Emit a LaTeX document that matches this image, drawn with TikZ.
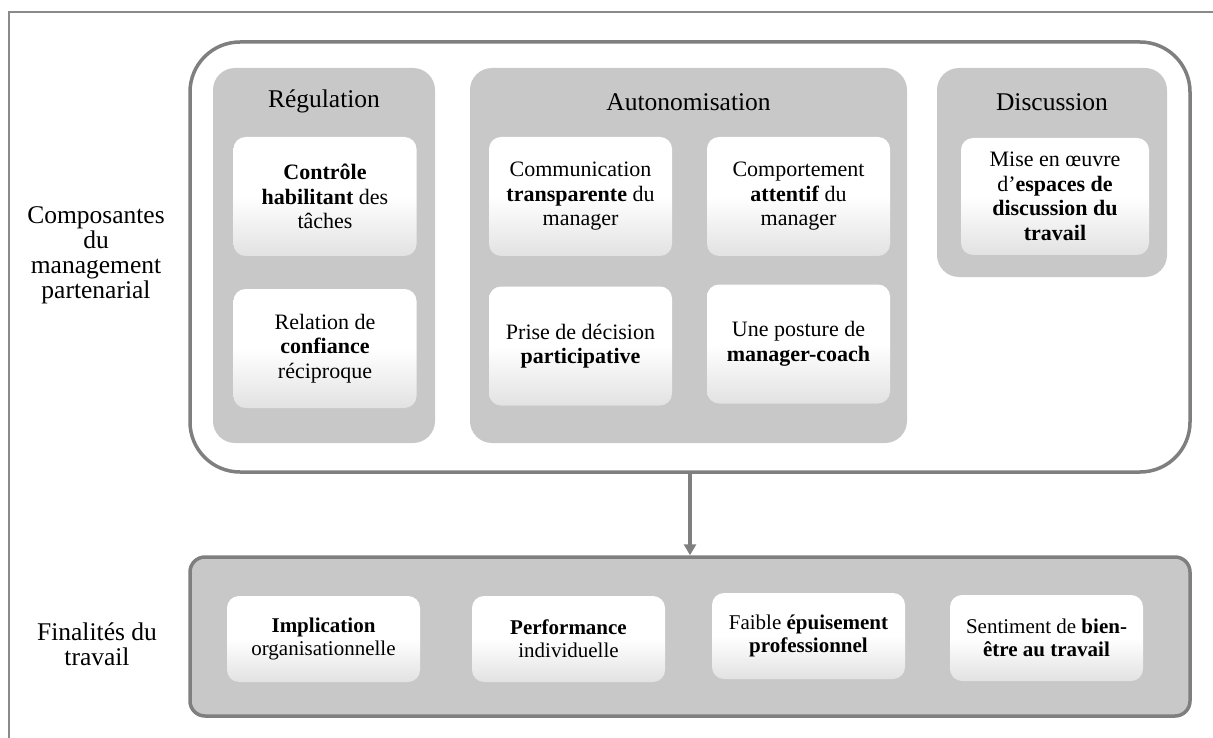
\documentclass[tikz,border=0pt]{standalone}
\usepackage{fontspec}
\setmainfont{Liberation Serif}
\usepackage{tikz}
\usetikzlibrary{positioning, arrows.meta, shapes}

\definecolor{panelgray}{HTML}{C8C8C8}
\definecolor{linegray}{HTML}{7F7F7F}
\definecolor{framegray}{HTML}{8A8A8A}
\definecolor{itembottom}{HTML}{E2E2E2}

\newcommand{\itemfont}{\fontsize{22}{24.5}\selectfont}
\newcommand{\goalfont}{\fontsize{21}{23}\selectfont}
\newcommand{\headfont}{\fontsize{25.5}{25}\selectfont}

\tikzset{%
  % Specifications for style of nodes:
            base/.style = {rectangle, rounded corners=12pt, inner sep=0pt,
                           align=center, text=black},
            container/.style = {base, draw=linegray, line width=3.5pt, fill=white,
                           rounded corners=50pt, minimum width=1000pt, minimum height=430pt},
            panel/.style = {base, fill=panelgray, rounded corners=22pt},
            goalPanel/.style = {base, fill=panelgray, draw=linegray, line width=3.5pt,
                           rounded corners=15pt, minimum width=1000pt, minimum height=159pt},
            item/.style = {base, top color=white, bottom color=itembottom, middle color=white,
                           minimum width=183pt, minimum height=119pt, font=\itemfont},
            goal/.style = {item, minimum width=193pt, minimum height=86pt, font=\goalfont},
            head/.style = {font=\headfont, inner sep=0pt},
            side/.style = {font=\headfont, align=center, inner sep=0pt},
 }

\begin{document}
\begin{tikzpicture}[x=1pt, y=-1pt]
  \useasboundingbox (0,0) rectangle (1213,738);
  \draw[framegray, line width=1.5pt] (9,738) -- (9,12) -- (1213,12);

  % Specification of nodes (position, etc.)
     \node (compo) [container] at (690,257) {};
     \node (regul) [panel, minimum width=222pt, minimum height=375pt] at (324,255.5) {};
     \node (autono) [panel, minimum width=437pt, minimum height=375pt] at (688.5,255.5) {};
     \node (discu) [panel, minimum width=230pt, minimum height=209pt] at (1052,172.5) {};

     \node (tRegul) [head] at (regul.north) [yshift=-34pt] {Régulation};
     \node (tAutono) [head] at (autono.north) [yshift=-34pt] {Autonomisation};
     \node (tDiscu) [head] at (discu.north) [yshift=-34pt] {Discussion};

     \node (controle) [item] at (325,196.5) {\textbf{Contrôle}\\\textbf{habilitant} des\\tâches};
     \node (confiance) [item] at (325,348.5) {Relation de\\\textbf{confiance}\\réciproque};

     \node (commu) [item] at (580.5,196.5) {Communication\\\textbf{transparente} du\\manager};
     \node (attentif) [item] at (798.5,196.5) {Comportement\\\textbf{attentif} du\\manager};
     \node (decision) [item] at (580.5,346) {Prise de décision\\\textbf{participative}};
     \node (coach) [item] at (798.5,344) {Une posture de\\\textbf{manager-coach}};

     \node (espaces) [item, minimum width=188pt, minimum height=117pt] at (1055,196.5)
           {Mise en œuvre\\d’\textbf{espaces de}\\\textbf{discussion du}\\\textbf{travail}};

     \node (sideCompo) [side] at (96,255) {Composantes\\du\\management\\partenarial};

     \node (finalites) [goalPanel] at (690,636.5) {};
     \node (implic) [goal] at (323.5,639) {\textbf{Implication}\\organisationnelle};
     \node (perf) [goal] at (568.5,639) {\textbf{Performance}\\individuelle};
     \node (epuis) [goal] at (808.5,636) {Faible \textbf{épuisement}\\\textbf{professionnel}};
     \node (bienetre) [goal] at (1046.5,638) {Sentiment de \textbf{bien-}\\\textbf{être au travail}};

     \node (sideFin) [side] at (97,644) {Finalités du\\travail};

     \draw[-{Triangle[width=12pt,length=11pt]}, linegray, line width=4pt]
          (compo.south) -- (finalites.north);

\end{tikzpicture}
\end{document}
